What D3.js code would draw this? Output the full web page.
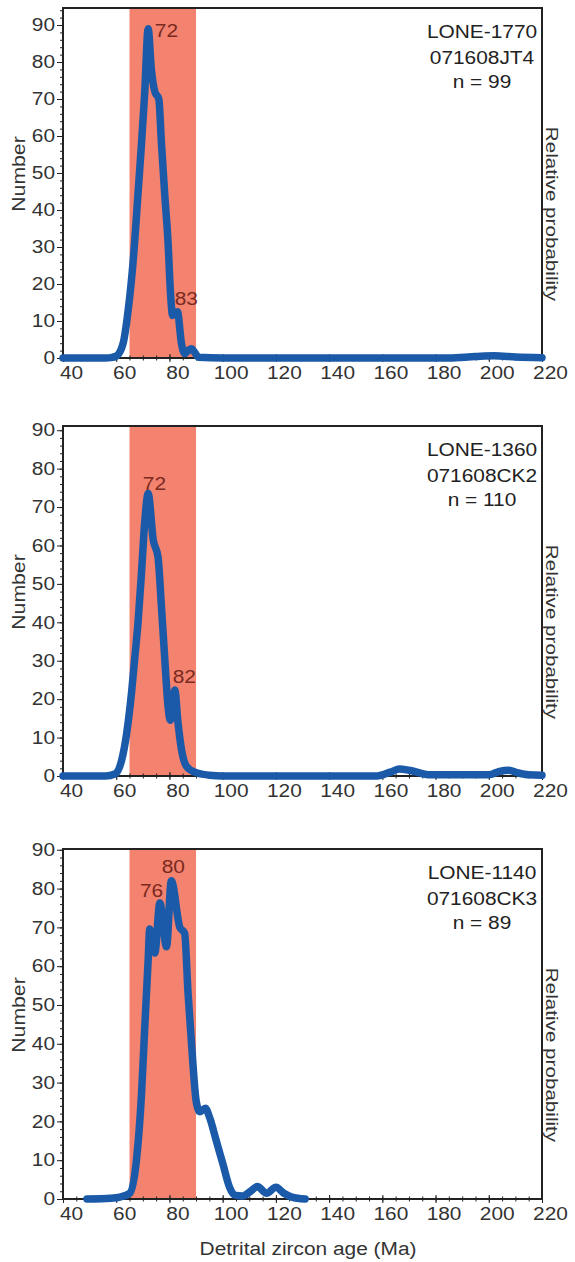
<!DOCTYPE html>
<html>
<head>
<meta charset="utf-8">
<script src="https://cdn.jsdelivr.net/npm/d3@7"></script>
<style>
  body { margin: 0; background: #fff; }
  text { font-family: "Liberation Sans", Arial, sans-serif; }
</style>
</head>
<body>
<svg id="chart" width="575" height="1262"></svg>
<script>
// ---------- data ----------
const sampleNames = ["LONE-1770", "LONE-1360", "LONE-1140"];
const sampleIds = ["071608JT4", "071608CK2", "071608CK3"];
const sampleCounts = [99, 110, 89];
const yMaxes = [94.6, 91.1, 90.2];
const shadeAges = [65, 90];
const xTickValues = [40, 60, 80, 100, 120, 140, 160, 180, 200, 220];
const yTickValues = [0, 10, 20, 30, 40, 50, 60, 70, 80, 90];

// LONE-1770
const ages1 = [40, 56, 58, 60, 62.6, 64.5, 66.4, 68.2, 69.5, 70.7, 72, 73.2, 74.5, 76, 77, 78.2, 79.5, 80.4, 81.2, 83, 84.5, 85.7, 87, 88.3, 89.5, 91, 100, 185, 195, 202, 210, 220];
const counts1 = [0, 0, 0.1, 0.5, 4, 13, 26.5, 44.5, 58, 71.6, 89, 78, 72, 70, 58, 44.5, 31, 17.5, 11.5, 12.5, 4, 1.2, 2, 2.5, 1.5, 0.2, 0, 0, 0.4, 0.6, 0.3, 0.1];
// LONE-1360
const ages2 = [40, 56, 59.5, 62, 63.9, 65.8, 67, 68.2, 69.5, 70.7, 72, 73.9, 75.7, 77, 78.2, 79.5, 80.3, 81, 82, 83.2, 84.5, 86.4, 89.5, 95, 100, 158, 163, 166.5, 170, 178, 200, 204, 207.5, 211, 215, 220];
const counts2 = [0, 0, 0.5, 4, 11, 22, 31, 40, 53, 66, 73.5, 61.5, 57, 44, 31, 18, 14.5, 17, 22.4, 14, 7, 2.5, 1, 0.2, 0, 0, 1, 1.8, 1.5, 0.3, 0.3, 1.2, 1.5, 0.8, 0.3, 0.2];
// LONE-1140
const ages3 = [49, 58, 61.4, 65.1, 67.6, 69.5, 70.7, 72, 72.6, 74.5, 76.4, 78.9, 80.7, 83.9, 85.7, 87, 88.3, 90.1, 91.4, 93.5, 95.1, 97.6, 100.1, 102.6, 104.5, 107.5, 110.5, 113, 116.5, 120, 123, 126, 131];
const counts3 = [0, 0.2, 0.5, 1.5, 10, 27, 44, 61.6, 69.6, 63.4, 76.3, 65, 82, 70, 68.5, 53, 40, 25, 22.5, 23.4, 21, 15, 9, 3, 1, 0.8, 2, 3.2, 1.5, 3, 1.5, 0.5, 0];

// peak labels: text, age and count where the label sits
const peakLabels1 = ["72", "83"], peakAges1 = [74.5, 82], peakCounts1 = [86.8, 14.3];
const peakLabels2 = ["72", "82"], peakAges2 = [70, 81.2], peakCounts2 = [74.5, 24.2];
const peakLabels3 = ["80", "76"], peakAges3 = [77.1, 68.9], peakCounts3 = [84, 77.8];

const series = [
  {ages: ages1, counts: counts1, pl: peakLabels1, pa: peakAges1, pc: peakCounts1},
  {ages: ages2, counts: counts2, pl: peakLabels2, pa: peakAges2, pc: peakCounts2},
  {ages: ages3, counts: counts3, pl: peakLabels3, pa: peakAges3, pc: peakCounts3}
];

// ---------- layout ----------
const svg = d3.select("#chart");
const left = 63, right = 542, plotH = 350;
const panelTops = [8, 426, 849];
const sx = 1.16; // text in the figure is a bit wide
const ink = "#222";

series.forEach((s, i) => drawPanel(s, i));

function drawPanel(s, i) {
  let top = panelTops[i], bottom = top + plotH;
  let x = d3.scaleLinear().domain([40, 220]).range([left, right]);
  let y = d3.scaleLinear().domain([0, yMaxes[i]]).range([bottom, top]);
  let g = svg.append("g");

  // shaded age window
  g.append("rect")
    .attr("x", x(shadeAges[0])).attr("y", top)
    .attr("width", x(shadeAges[1]) - x(shadeAges[0]))
    .attr("height", bottom - top)
    .attr("fill", "#f3826f");

  // minor x ticks (every 5 Ma)
  let xMinor = g.append("g").attr("transform", `translate(0,${bottom})`)
    .call(d3.axisBottom(x).tickValues(d3.range(40, 221, 5)).tickSize(3).tickFormat(""));
  xMinor.select(".domain").remove();
  xMinor.selectAll("line").attr("y1", -2.5).attr("y2", 2.5).attr("stroke", ink);

  // major x ticks + labels
  let xAxis = g.append("g").attr("transform", `translate(0,${bottom})`)
    .call(d3.axisBottom(x).tickValues(xTickValues).tickSize(4));
  xAxis.select(".domain").remove();
  xAxis.selectAll("line").attr("y1", -4).attr("y2", 4).attr("stroke", ink);
  xAxis.selectAll("text")
    .attr("y", 21).attr("dy", null)
    .attr("transform", `translate(8,0) scale(${sx},1)`)
    .attr("font-size", 18).attr("fill", "#333")
    .style("font-family", '"Liberation Sans", Arial, sans-serif');

  // minor y ticks
  let yMinor = g.append("g").attr("transform", `translate(${left},0)`)
    .call(d3.axisLeft(y).tickValues(d3.range(0, yMaxes[i], 2)).tickSize(3).tickFormat(""));
  yMinor.select(".domain").remove();
  yMinor.selectAll("line").attr("stroke", ink);

  // major y ticks + labels
  let yAxis = g.append("g").attr("transform", `translate(${left},0)`)
    .call(d3.axisLeft(y).tickValues(yTickValues).tickSize(6));
  yAxis.select(".domain").remove();
  yAxis.selectAll("line").attr("stroke", ink);
  yAxis.selectAll("text")
    .attr("x", -8 / sx)
    .attr("transform", `scale(${sx},1)`)
    .attr("font-size", 18).attr("fill", "#333")
    .style("font-family", '"Liberation Sans", Arial, sans-serif');

  // frame
  g.append("rect")
    .attr("x", left).attr("y", top)
    .attr("width", right - left).attr("height", plotH)
    .attr("fill", "none").attr("stroke", ink).attr("stroke-width", 2);

  // probability curve
  let pts = s.ages.map((a, k) => [a, s.counts[k]]);
  let line = d3.line().x(d => x(d[0])).y(d => y(d[1])).curve(d3.curveMonotoneX);
  g.append("path")
    .attr("d", line(pts))
    .attr("fill", "none")
    .attr("stroke", "#1b5aa9")
    .attr("stroke-width", 7.5)
    .attr("stroke-linejoin", "round")
    .attr("stroke-linecap", "round");

  // peak ages
  s.pl.forEach((t, k) => {
    g.append("text")
      .attr("transform", `translate(${x(s.pa[k])},${y(s.pc[k])}) scale(${sx},1)`)
      .attr("font-size", 18).attr("fill", "#7a2a1e")
      .text(t);
  });

  // sample info
  let info = [sampleNames[i], sampleIds[i], "n = " + sampleCounts[i]];
  let offs = [30, 56, 80];
  info.forEach((t, k) => {
    g.append("text")
      .attr("transform", `translate(482,${top + offs[k]}) scale(${sx},1)`)
      .attr("text-anchor", "middle")
      .attr("font-size", 18).attr("fill", ink)
      .text(t);
  });

  // axis titles
  g.append("text")
    .attr("transform", `translate(25,${bottom - 184}) rotate(-90) scale(1.18,1)`)
    .attr("text-anchor", "middle")
    .attr("font-size", 18).attr("fill", "#333")
    .text("Number");

  g.append("text")
    .attr("transform", `translate(546,${bottom - 144}) rotate(90) scale(1.29,1)`)
    .attr("text-anchor", "middle")
    .attr("font-size", 16).attr("fill", "#333")
    .text("Relative probability");

  if (i === 2) {
    g.append("text")
      .attr("transform", `translate(308,1255) scale(${sx},1)`)
      .attr("text-anchor", "middle")
      .attr("font-size", 18).attr("fill", "#333")
      .text("Detrital zircon age (Ma)");
  }
}
</script>
</body>
</html>
